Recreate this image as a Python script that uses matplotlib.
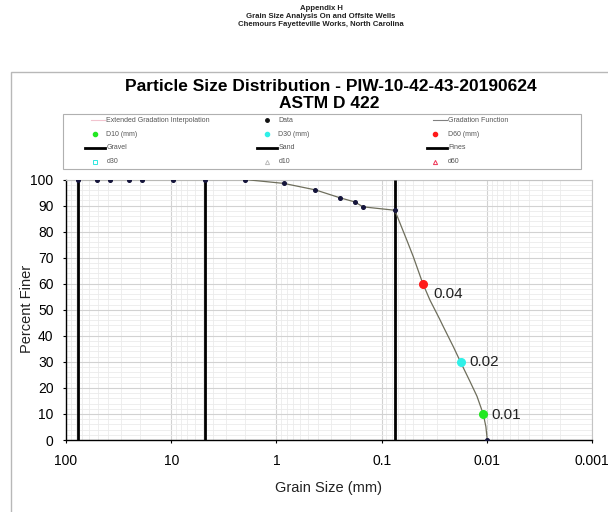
import matplotlib
matplotlib.use("Agg")
import matplotlib.pyplot as plt
import numpy as np
from matplotlib.ticker import FixedLocator, NullFormatter, LogLocator, MultipleLocator
from matplotlib.patches import Rectangle
from matplotlib.lines import Line2D

plt.rcParams['font.family'] = ['Liberation Sans', 'DejaVu Sans']

W, H = 608, 512

# ---------------- data ----------------
header_lines = ["Appendix H",
                "Grain Size Analysis On and Offsite Wells",
                "Chemours Fayetteville Works, North Carolina"]
title_lines = ["Particle Size Distribution - PIW-10-42-43-20190624", "ASTM D 422"]

sieve_mm = [76.2, 50.8, 38.1, 25.4, 19.05, 9.525, 4.75, 2.0, 0.85, 0.425, 0.25, 0.18, 0.15, 0.075, 0.0099]
percent_finer = [100, 100, 100, 100, 100, 100, 100, 100, 98.5, 96.0, 93.0, 91.4, 89.5, 88.2, 0]

grad_mm = [76.2, 50.8, 38.1, 25.4, 19.05, 9.525, 4.75, 2.0, 0.85, 0.425, 0.25, 0.18, 0.15, 0.075,
           0.0668, 0.0577, 0.050, 0.0407, 0.0347, 0.0283, 0.0259, 0.0208, 0.0177, 0.0145,
           0.0124, 0.0108, 0.0102, 0.0099]
grad_pct = [100, 100, 100, 100, 100, 100, 100, 100, 98.5, 96.0, 93.0, 91.4, 89.5, 88.2,
            83.2, 76.8, 70.4, 60.2, 53.7, 46.7, 43.5, 35.8, 29.8, 22.6,
            16.8, 9.9, 5.1, 0]

d_names = ["D10 (mm)", "D30 (mm)", "D60 (mm)"]
d_mm = [0.0108, 0.0177, 0.0407]
d_pct = [10, 30, 60]
d_labels = ["0.01", "0.02", "0.04"]
d_colors = ["#22e822", "#30f0e8", "#ff1a1a"]

boundary_names = ["Gravel", "Sand", "Fines"]
boundary_mm = [76.2, 4.75, 0.075]

x_ticks = [100, 10, 1, 0.1, 0.01, 0.001]
x_tick_labels = ["100", "10", "1", "0.1", "0.01", "0.001"]
y_ticks = list(range(0, 101, 10))

# ---------------- figure ----------------
fig = plt.figure(figsize=(W / 100, H / 100), dpi=100)
fig.patch.set_facecolor('white')


def fx(x):
    return x / W


def fy(y):
    return 1 - y / H


# outer frame
fig.patches.append(Rectangle((fx(11), fy(560)), fx(700), fy(72) - fy(560),
                             transform=fig.transFigure, fill=False,
                             edgecolor='#b8b8b8', lw=1.0))

# header
for txt, yy in zip(header_lines, [8, 16.5, 25]):
    fig.text(fx(321), fy(yy), txt, ha='center', va='center', fontsize=5.6,
             fontweight='bold', color='#222222')

# title
fig.text(fx(331), fy(86.5), title_lines[0], ha='center', va='center', fontsize=12.5,
         fontweight='bold', color='black')
fig.text(fx(329), fy(104), title_lines[1], ha='center', va='center', fontsize=12.5,
         fontweight='bold', color='black')

# main axes
ax = fig.add_axes([fx(66), fy(440), (592 - 66) / W, (440 - 179.5) / H])
ax.set_xscale('log')
ax.set_xlim(100, 0.001)
ax.set_ylim(0, 100)
ax.xaxis.set_major_locator(FixedLocator(x_ticks))
ax.set_xticklabels(x_tick_labels)
ax.xaxis.set_minor_locator(LogLocator(base=10, subs=np.arange(2, 10)))
ax.xaxis.set_minor_formatter(NullFormatter())
ax.set_yticks(y_ticks)
ax.yaxis.set_minor_locator(MultipleLocator(2))
ax.grid(which='major', color='#d2d2d2', lw=0.8, zorder=0)
ax.grid(which='minor', color='#ebebeb', lw=0.6, zorder=0)
ax.tick_params(which='minor', length=0)
ax.tick_params(which='major', length=2, width=0.8, labelsize=10, pad=7, colors='black')
ax.tick_params(axis='x', which='major', pad=8)
for s in ['top', 'right']:
    ax.spines[s].set_color('#c4c4c4')
for s in ['left', 'bottom']:
    ax.spines[s].set_color('black')
    ax.spines[s].set_linewidth(1.0)

ax.vlines(boundary_mm, 0, 100, colors='black', lw=2.0, zorder=3)
ax.plot(grad_mm, grad_pct, color='#6e6e5c', lw=0.9, zorder=4)
ax.plot(sieve_mm, percent_finer, 'o', ms=2.6, color='#14143a', zorder=5)

offsets = [(5.5, -1), (6, 0), (8, -7.7)]
for xm, yp, lab, col, off in zip(d_mm, d_pct, d_labels, d_colors, offsets):
    ax.plot([xm], [yp], 'o', ms=5.5, color=col, zorder=6)
    ax.annotate(lab, (xm, yp), xytext=off, textcoords='offset points',
                fontsize=11, va='center', ha='left', color='#222222')

fig.text(fx(27), fy(309), "Percent Finer", rotation=90, ha='center', va='center',
         fontsize=10.5, color='#222222')
fig.text(fx(329), fy(488), "Grain Size (mm)", ha='center', va='center',
         fontsize=10.5, color='#222222')

# legend (manual, 3 columns x 4 rows)
lg = fig.add_axes([0, 0, 1, 1], zorder=10)
lg.set_xlim(0, W)
lg.set_ylim(H, 0)
lg.axis('off')
lg.patch.set_alpha(0)
lg.add_patch(Rectangle((63, 113.7), 518, 55.6, fill=False, edgecolor='#b0b0b0', lw=0.8))

rows = [120.3, 134.3, 147.7, 161.7]
col_mark = [94.7, 266.7, 434.7]
col_text = [106.5, 278.3, 448.0]
entries = [
    (0, 0, "Extended Gradation Interpolation", 'line', dict(color='#f2c4cf', lw=0.8)),
    (1, 0, "Data", 'marker', dict(marker='o', ms=2.5, color='#111111', ls='none')),
    (2, 0, "Gradation Function", 'line', dict(color='#808080', lw=0.8)),
    (0, 1, d_names[0], 'marker', dict(marker='o', ms=3, color=d_colors[0], ls='none')),
    (1, 1, d_names[1], 'marker', dict(marker='o', ms=3, color=d_colors[1], ls='none')),
    (2, 1, d_names[2], 'marker', dict(marker='o', ms=3, color=d_colors[2], ls='none')),
    (0, 2, boundary_names[0], 'line', dict(color='black', lw=2.0)),
    (1, 2, boundary_names[1], 'line', dict(color='black', lw=2.0)),
    (2, 2, boundary_names[2], 'line', dict(color='black', lw=2.0)),
    (0, 3, "d30", 'marker', dict(marker='s', ms=2.5, mfc='none', mec='#30e8e0', mew=0.7, ls='none')),
    (1, 3, "d10", 'marker', dict(marker='^', ms=3, mfc='none', mec='#bbbbbb', mew=0.7, ls='none')),
    (2, 3, "d60", 'marker', dict(marker='^', ms=3, mfc='none', mec='#ee3355', mew=0.7, ls='none')),
]
for c, r, label, kind, style in entries:
    y = rows[r]
    if kind == 'line':
        x1 = col_text[c] - 1.5
        x0 = x1 - (20 if r == 2 else 14)
        lg.add_line(Line2D([x0, x1], [y, y], **style))
    else:
        lg.add_line(Line2D([col_mark[c]], [y], **style))
    lg.text(col_text[c], y, label, fontsize=5, va='center', ha='left', color='#555555')

fig.savefig("out.png", dpi=100)
